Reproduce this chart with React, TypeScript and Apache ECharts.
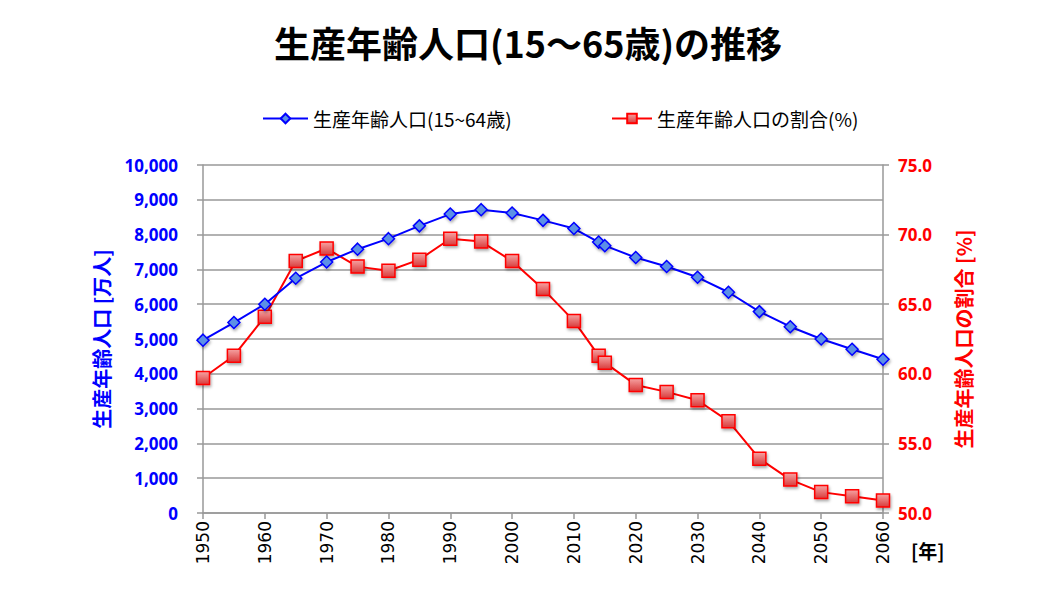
import React, { useEffect, useRef } from "react";
import * as echarts from "echarts";

const years = [1950, 1955, 1960, 1965, 1970, 1975, 1980, 1985, 1990, 1995, 2000, 2005, 2010, 2014, 2015, 2020, 2025, 2030, 2035, 2040, 2045, 2050, 2055, 2060];
const population = [4966, 5473, 6000, 6744, 7212, 7581, 7883, 8251, 8590, 8716, 8622, 8409, 8174, 7785, 7682, 7341, 7085, 6773, 6343, 5787, 5353, 5001, 4706, 4418];
const ratio = [59.7, 61.3, 64.1, 68.1, 69.0, 67.7, 67.4, 68.2, 69.7, 69.5, 68.1, 66.1, 63.8, 61.3, 60.8, 59.2, 58.7, 58.1, 56.6, 53.9, 52.4, 51.5, 51.2, 50.9];

const title = "生産年齢人口(15～65歳)の推移";
const seriesNames = ["生産年齢人口(15~64歳)", "生産年齢人口の割合(%)"];
const leftAxisName = "生産年齢人口 [万人]";
const rightAxisName = "生産年齢人口の割合 [%]";
const xUnit = "[年]";

const FONT = "'Noto Sans CJK JP', 'Noto Sans', sans-serif";

export default function App() {
  const ref = useRef<HTMLDivElement>(null);
  useEffect(() => {
    document.body.style.margin = "0";
    const chart = echarts.init(ref.current!, null, { renderer: "svg" });
    const gridColor = "#999999";
    chart.setOption({
      animation: false,
      backgroundColor: "#ffffff",
      textStyle: { fontFamily: FONT },
      title: {
        text: title,
        left: "center",
        top: 19,
        textStyle: { fontSize: 36, fontWeight: "bold", color: "#000", fontFamily: FONT },
      },
      legend: [
        {
          data: [seriesNames[0]],
          left: 257,
          top: 104,
          itemWidth: 45,
          itemHeight: 12,
          itemGap: 4,
          textStyle: { fontSize: 19, color: "#000", fontFamily: FONT },
        },
        {
          data: [seriesNames[1]],
          left: 606,
          top: 104,
          itemWidth: 40,
          itemHeight: 12,
          textStyle: { fontSize: 19, color: "#000", fontFamily: FONT },
        },
      ],
      grid: { left: 203, right: 173, top: 165, bottom: 94 },
      xAxis: {
        type: "value",
        min: 1950,
        max: 2060,
        interval: 10,
        axisLine: { show: true, lineStyle: { color: gridColor, width: 1.5 } },
        axisTick: { show: true, length: 6, lineStyle: { color: gridColor, width: 1.5 } },
        splitLine: { show: false },
        axisLabel: {
          rotate: 90,
          fontSize: 17,
          color: "#000",
          margin: 8,
          fontFamily: "'DejaVu Sans', sans-serif",
          formatter: (v: number) => String(v),
        },
      },
      yAxis: [
        {
          type: "value",
          min: 0,
          max: 10000,
          interval: 1000,
          position: "left",
          name: leftAxisName,
          nameLocation: "middle",
          nameRotate: 90,
          nameGap: 92,
          nameTextStyle: { color: "#0000ff", fontSize: 20, fontWeight: "bold", fontFamily: FONT },
          axisLine: { show: true, lineStyle: { color: gridColor, width: 1.5 } },
          axisTick: { show: true, length: 6, lineStyle: { color: gridColor, width: 1.5 } },
          splitLine: { show: true, lineStyle: { color: gridColor, width: 1.5 } },
          axisLabel: {
            color: "#0000ff",
            fontSize: 17,
            fontWeight: "bold",
            margin: 25,
            fontFamily: "'Open Sans', sans-serif",
            formatter: (v: number) => v.toLocaleString("en-US"),
          },
        },
        {
          type: "value",
          min: 50,
          max: 75,
          interval: 5,
          position: "right",
          name: rightAxisName,
          nameLocation: "middle",
          nameRotate: 90,
          nameGap: 70,
          nameTextStyle: { color: "#ff0000", fontSize: 20, fontWeight: "bold", fontFamily: FONT },
          axisLine: { show: true, lineStyle: { color: gridColor, width: 1.5 } },
          axisTick: { show: true, length: 6, lineStyle: { color: gridColor, width: 1.5 } },
          splitLine: { show: false },
          axisLabel: {
            color: "#ff0000",
            fontSize: 17,
            fontWeight: "bold",
            margin: 15,
            fontFamily: "'Open Sans', sans-serif",
            formatter: (v: number) => v.toFixed(1),
          },
        },
      ],
      graphic: [
        {
          type: "text",
          left: 911,
          top: 541,
          style: { text: xUnit, fontSize: 19, fontWeight: "bold", fill: "#000", fontFamily: FONT },
        },
      ],
      series: [
        {
          name: seriesNames[1],
          type: "line",
          yAxisIndex: 1,
          data: years.map((y, i) => [y, ratio[i]]),
          symbol: "rect",
          symbolSize: 13,
          lineStyle: { color: "#ff0000", width: 2 },
          itemStyle: {
            color: new echarts.graphic.LinearGradient(0, 0, 0, 1, [
              { offset: 0, color: "#f6a3a3" },
              { offset: 1, color: "#d83b3b" },
            ]),
            borderColor: "#ff0000",
            borderWidth: 1.5,
            shadowBlur: 3,
            shadowColor: "rgba(0,0,0,0.35)",
            shadowOffsetX: 1,
            shadowOffsetY: 2,
          },
          z: 2,
        },
        {
          name: seriesNames[0],
          type: "line",
          yAxisIndex: 0,
          data: years.map((y, i) => [y, population[i]]),
          symbol: "diamond",
          symbolSize: 12,
          lineStyle: { color: "#0000ff", width: 2 },
          itemStyle: {
            color: "#5b90e6",
            borderColor: "#0000ff",
            borderWidth: 1.5,
            shadowBlur: 3,
            shadowColor: "rgba(0,0,0,0.35)",
            shadowOffsetX: 1,
            shadowOffsetY: 2,
          },
          z: 3,
        },
      ],
    });
    return () => chart.dispose();
  }, []);
  return <div ref={ref} style={{ width: 1056, height: 607 }} />;
}
